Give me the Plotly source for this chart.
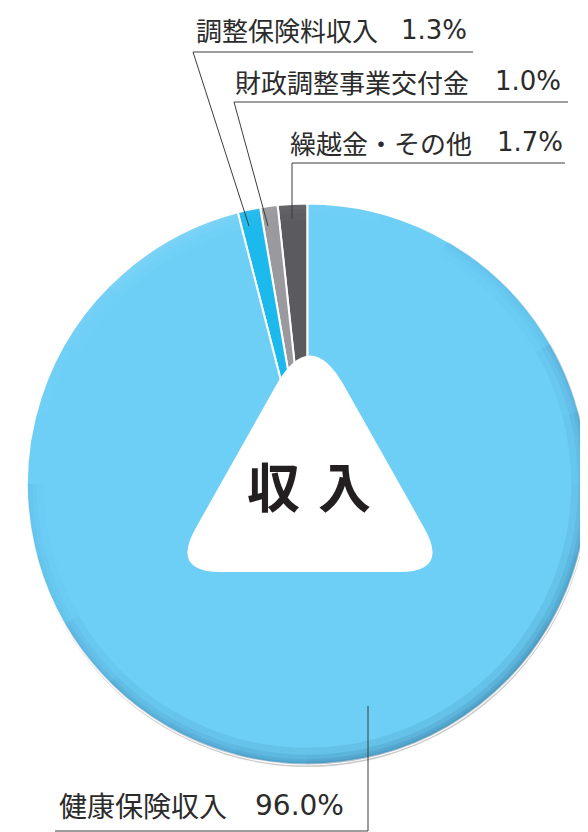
import math
import plotly.graph_objects as go

# page body has an 8px margin: figure sized to fill the remaining window
OFF = 8
W, H = 588 - OFF, 832 - OFF

# Data
categories = ["繰越金・その他", "財政調整事業交付金", "調整保険料収入", "健康保険収入"]
values = [1.7, 1.0, 1.3, 96.0]
value_labels = ["1.7%", "1.0%", "1.3%", "96.0%"]
colors = ["#5b5b5f", "#9a9a9e", "#1cb9ec", "#6dcff6"]
center_chars = ["収", "入"]

def px(x):
    return (x - OFF) / W

def py(y):
    return 1 - (y - OFF) / H

FONT = "Noto Sans CJK JP"
NUM_FONT = "DejaVu Sans"
TEXT_COLOR = "#2b2b2b"
LINE_COLOR = "#3c3c3c"

DOMAIN = dict(x=[px(27), 1.0], y=[py(765), py(203)])

fig = go.Figure()
fig.add_trace(go.Pie(
    labels=categories,
    values=values,
    sort=False,
    direction="counterclockwise",
    rotation=-6.12,  # first slice ends at 12 o'clock
    textinfo="none",
    hoverinfo="label+percent",
    marker=dict(colors=colors, line=dict(color="white", width=2)),
    domain=DOMAIN,
    showlegend=False,
))

# decorative rim shading (darker toward lower right, lighter toward upper left)
rim_dark = [0, 0, 0.01, 0.02, 0.035, 0.05, 0.06, 0.07, 0.08, 0.08, 0.08, 0.08,
            0.07, 0.06, 0.05, 0.035, 0.02, 0.01, 0, 0, 0, 0, 0, 0]
rim_light = [0.01, 0, 0, 0, 0, 0, 0, 0, 0, 0, 0, 0,
             0, 0, 0, 0, 0, 0, 0, 0.01, 0.02, 0.03, 0.03, 0.02]
for hole in [0.94, 0.965, 0.98, 0.99]:
    cols = []
    for d, l in zip(rim_dark, rim_light):
        if d > 0:
            cols.append(f"rgba(0,40,80,{d})")
        elif l > 0:
            cols.append(f"rgba(255,255,255,{l})")
        else:
            cols.append("rgba(0,0,0,0)")
    fig.add_trace(go.Pie(
        values=[1] * len(rim_dark), labels=[f"s{i}" for i in range(len(rim_dark))],
        sort=False, direction="clockwise", rotation=0, hole=hole,
        textinfo="none", hoverinfo="skip",
        marker=dict(colors=cols, line=dict(width=0)),
        domain=DOMAIN, showlegend=False,
    ))

shapes = []
# soft shadow under pie
shapes.append(dict(type="circle", xref="paper", yref="paper",
                   x0=px(27), x1=px(589), y0=py(767), y1=py(205),
                   line=dict(width=0),
                   fillcolor="rgba(140,140,140,0.45)", layer="below"))

# rounded triangle in centre
A = (310, 325); B = (171, 572); C = (449, 572)
def along(p, q, d):
    dx, dy = q[0] - p[0], q[1] - p[1]
    L = math.hypot(dx, dy)
    return (p[0] + dx / L * d, p[1] + dy / L * d)
dt, db = 70, 50
a1 = along(A, B, dt); a2 = along(A, C, dt)
b1 = along(B, A, db); b2 = along(B, C, db)
c1 = along(C, B, db); c2 = along(C, A, db)
def P(p):
    return f"{px(p[0]):.5f},{py(p[1]):.5f}"
path = (f"M {P(a2)} Q {P(A)} {P(a1)} L {P(b1)} Q {P(B)} {P(b2)} "
        f"L {P(c1)} Q {P(C)} {P(c2)} Z")
shapes.append(dict(type="path", xref="paper", yref="paper", path=path,
                   fillcolor="white", line=dict(width=0), layer="above"))

# leader lines (label underline + pointer)
def seg(x0, y0, x1, y1):
    shapes.append(dict(type="line", xref="paper", yref="paper",
                       x0=px(x0), y0=py(y0), x1=px(x1), y1=py(y1),
                       line=dict(color=LINE_COLOR, width=1), layer="above"))

# 調整保険料収入
seg(193, 52, 473, 52); seg(193, 52, 249, 226)
# 財政調整事業交付金
seg(234, 102, 568, 102); seg(234, 102, 268, 226)
# 繰越金・その他
seg(292, 163, 565, 163); seg(292, 163, 292, 219)
# 健康保険収入
seg(55, 831, 368, 831); seg(368, 831, 368, 706)

annotations = []
def label(x_left, x_right, y, name, val, size):
    annotations.append(dict(x=px(x_left), y=py(y), xref="paper", yref="paper",
                            text=name, showarrow=False, xanchor="left", yanchor="middle",
                            font=dict(family=FONT, size=size, color=TEXT_COLOR)))
    annotations.append(dict(x=px(x_right), y=py(y), xref="paper", yref="paper",
                            text=val, showarrow=False, xanchor="right", yanchor="middle",
                            font=dict(family=NUM_FONT, size=size, color=TEXT_COLOR)))

label(194, 469, 30, categories[2], value_labels[2], 26)
label(233, 563, 81, categories[1], value_labels[1], 26)
label(288, 565, 142, categories[0], value_labels[0], 26)
label(57, 346, 805, categories[3], value_labels[3], 28)

for ch, cx in zip(center_chars, [273.5, 344]):
    annotations.append(dict(x=px(cx), y=py(485), xref="paper", yref="paper",
                            text=f"<b>{ch}</b>", showarrow=False,
                            xanchor="center", yanchor="middle",
                            font=dict(family=FONT, size=53, color="#231f20")))

fig.update_layout(
    width=W, height=H,
    margin=dict(l=0, r=0, t=0, b=0),
    paper_bgcolor="white", plot_bgcolor="white",
    shapes=shapes, annotations=annotations,
)

fig.write_html("out.html")
